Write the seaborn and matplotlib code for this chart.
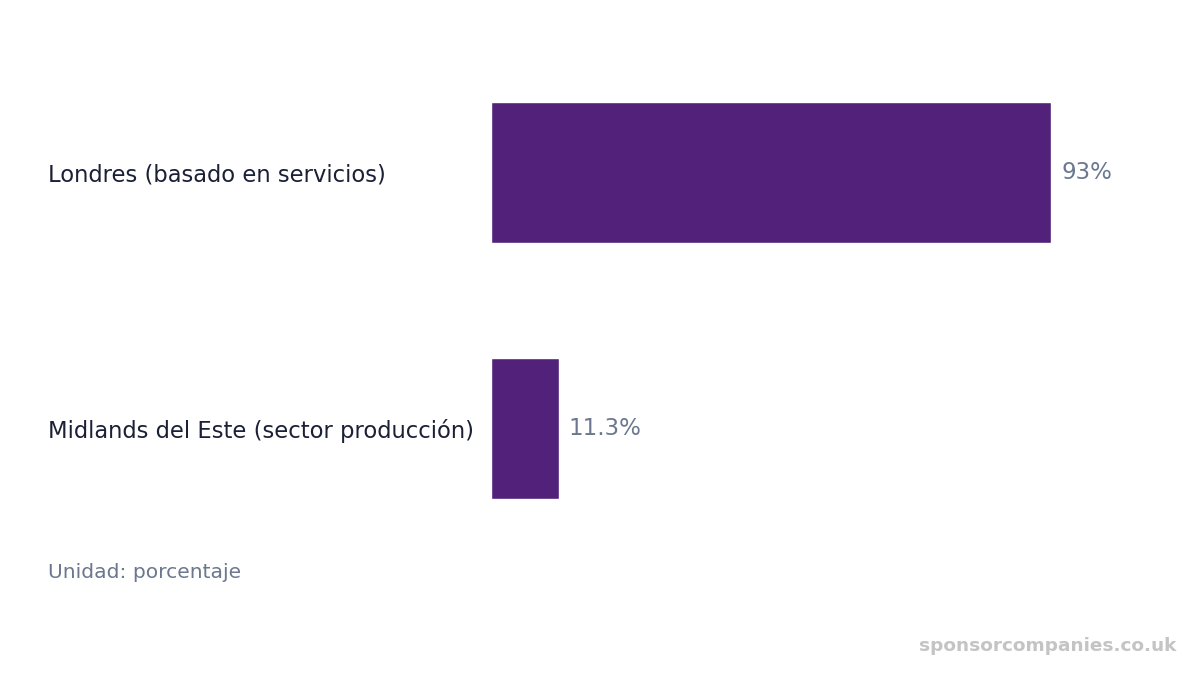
import matplotlib
matplotlib.use("Agg")
import matplotlib.pyplot as plt
import matplotlib.transforms as mtransforms
import pandas as pd
import seaborn as sns

# chart data
categories = ["Londres (basado en servicios)", "Midlands del Este (sector producción)"]
values = [93, 11.3]
value_labels = ["93%", "11.3%"]
unit_note = "Unidad: porcentaje"
watermark = "sponsorcompanies.co.uk"

FONT = "DejaVu Sans"


def main():
    sns.set_theme(style="white")
    plt.rcParams["font.family"] = [FONT]

    data = pd.DataFrame({"Category": categories, "Value": values})

    fig = plt.figure(figsize=(12, 6.75), dpi=100)
    ax = fig.add_axes([490.5 / 1200, 1 - 556.5 / 675, 603 / 1200, 512 / 675])

    sns.barplot(data=data, x="Value", y="Category", orient="h", color="#52227a",
                width=0.55, saturation=1, ax=ax)

    ax.set_xlim(0, 100)
    ax.set_ylim(1.5, -0.5)
    ax.set_xlabel("")
    ax.set_ylabel("")
    ax.set_xticks([])
    ax.set_yticks([])
    for s in ax.spines.values():
        s.set_visible(False)

    # category labels on the left, in figure x / data y
    trans = mtransforms.blended_transform_factory(fig.transFigure, ax.transData)
    for i, cat in enumerate(categories):
        ax.text(48 / 1200, i + 0.01, cat, transform=trans, ha="left", va="center",
                fontsize=16.3, color="#1a2035", family=FONT)

    # value labels at bar ends
    offset = mtransforms.offset_copy(ax.transData, fig=fig, x=10, y=0, units="dots")
    for i, (v, lab) in enumerate(zip(values, value_labels)):
        ax.text(v, i, lab, transform=offset, ha="left", va="center",
                fontsize=16.5, color="#6b7890", family=FONT)

    fig.text(48 / 1200, 1 - 572 / 675, unit_note, ha="left", va="center",
             fontsize=14.6, color="#6b7890", family=FONT)
    fig.text(1176 / 1200, 1 - 646 / 675, watermark, ha="right", va="center",
             fontsize=13.3, color="#c4c4c4", fontweight="bold", family=FONT)

    fig.savefig("out.png", dpi=100)


if __name__ == "__main__":
    main()
